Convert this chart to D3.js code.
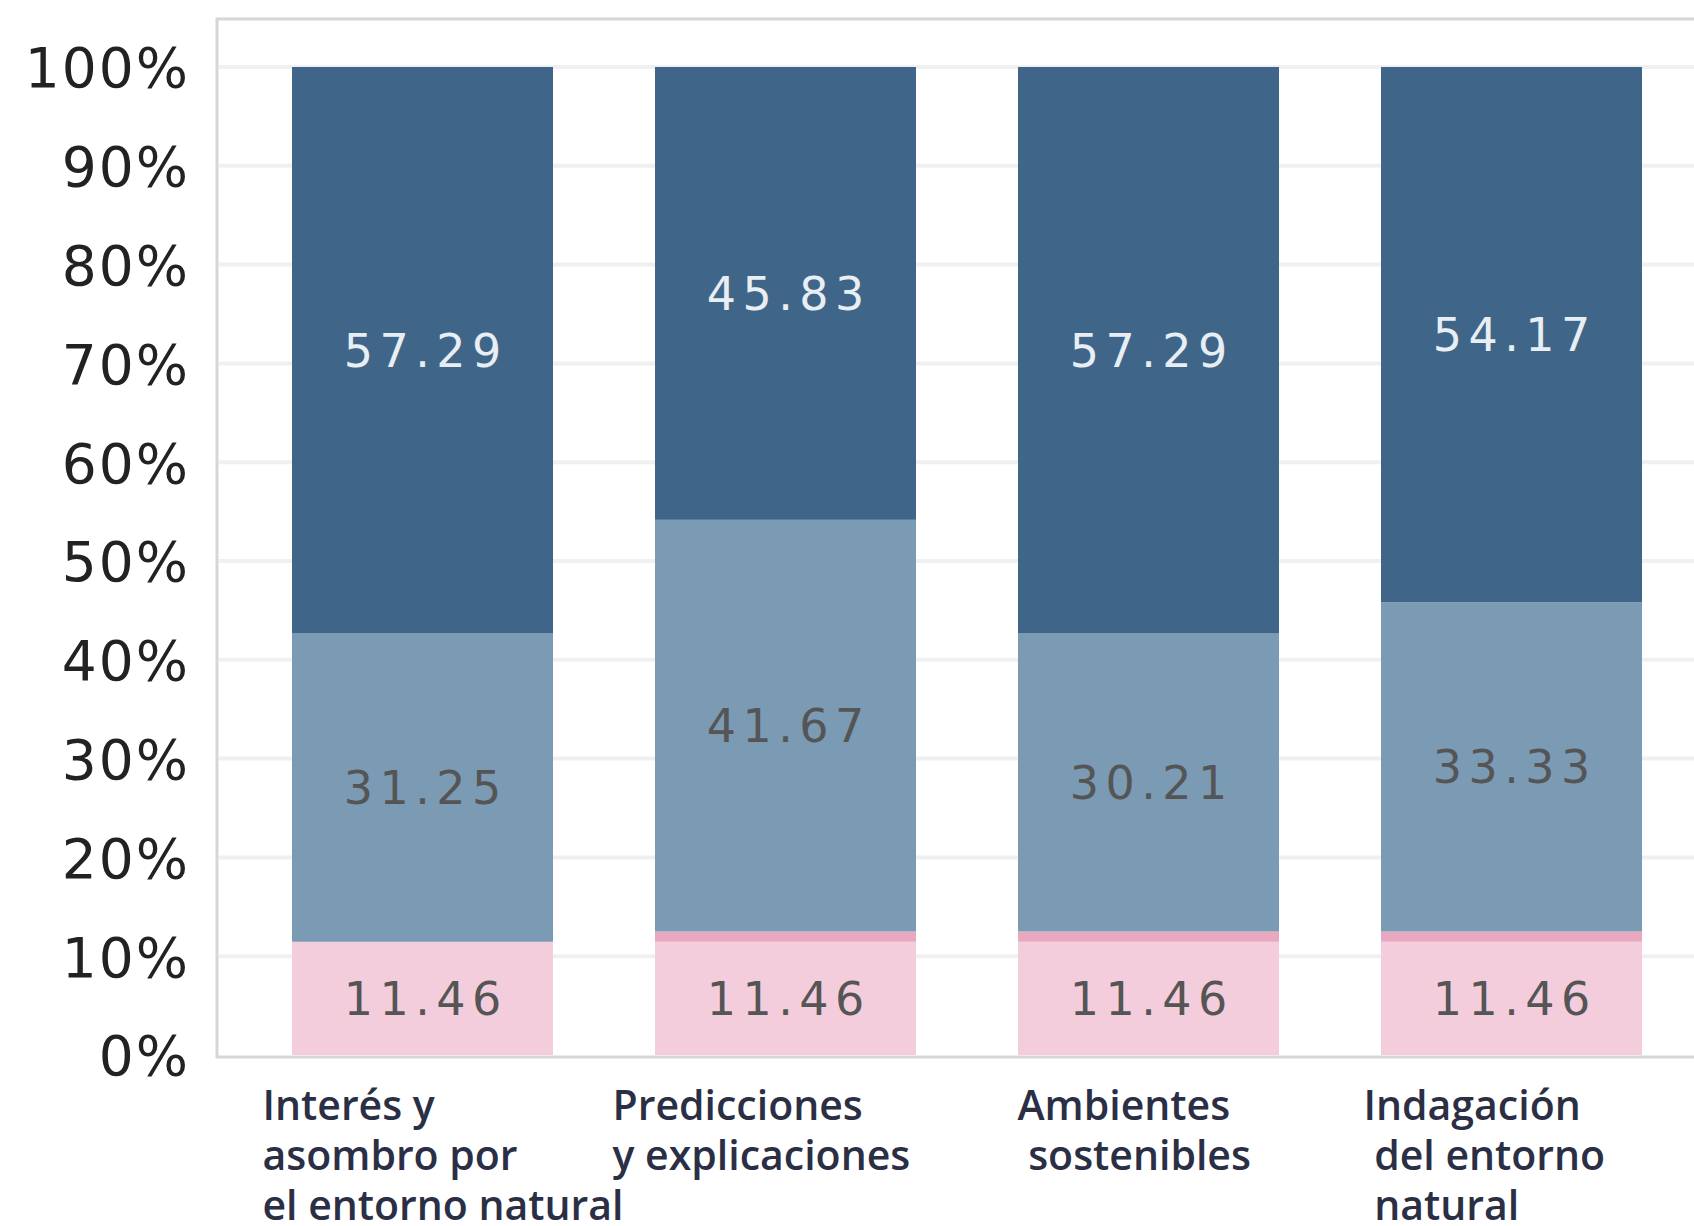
<!DOCTYPE html>
<html>
<head>
<meta charset="utf-8">
<script src="https://cdn.jsdelivr.net/npm/d3@7"></script>
<style>
  body { margin: 0; background: #fff; }
  svg { display: block; }
  .tick text { font-family: "DejaVu Sans", Verdana, sans-serif; }
</style>
</head>
<body>
<div id="chart"></div>
<script>
var categories = ["Interés y asombro por el entorno natural", "Predicciones y explicaciones", "Ambientes sostenibles", "Indagación del entorno natural"];
var categoryLines = [["Interés y", "asombro por", "el entorno natural"], ["Predicciones", "y explicaciones"], ["Ambientes", " sostenibles"], ["Indagación", " del entorno", " natural"]];
var seriesNames = ["bajo", "otro", "medio", "alto"];
var bajoValues = [11.46, 11.46, 11.46, 11.46];
var otroValues = [0, 1.04, 1.04, 1.04];
var medioValues = [31.25, 41.67, 30.21, 33.33];
var altoValues = [57.29, 45.83, 57.29, 54.17];
var yTicks = [0, 10, 20, 30, 40, 50, 60, 70, 80, 90, 100];

var width = 1694, height = 1226;
var colors = {bajo: "#f4cddd", otro: "#e8a9c0", medio: "#7b9ab3", alto: "#3f6688"};
var labelColors = {bajo: "#555", otro: "#555", medio: "#555", alto: "#e8eef4"};
var labelDx = [-160, -173, -131, -148];
var valueSpacing = 6.5;

var rows = categories.map(function(c, i) {
    return {cat: c, bajo: bajoValues[i], otro: otroValues[i], medio: medioValues[i], alto: altoValues[i]};
});
var stacked = d3.stack().keys(seriesNames)(rows);

var xScale = d3.scaleBand()
    .domain(categories)
    .range([241, 1693])
    .paddingInner(0.281)
    .paddingOuter(0.1405);

var yScale = d3.scaleLinear()
    .domain([0, 100])
    .range([1055, 67]);

var svg = d3.select("#chart").append("svg")
    .attr("width", width)
    .attr("height", height);

// frame
svg.append("rect")
    .attr("x", 217).attr("y", 19)
    .attr("width", 1600).attr("height", 1038)
    .attr("fill", "none")
    .attr("stroke", "#d6d6d6")
    .attr("stroke-width", 3);

// gridlines
svg.append("g").selectAll("line")
    .data(yTicks.filter(function(d) { return d > 0; }))
    .enter().append("line")
    .attr("x1", 219).attr("x2", width)
    .attr("y1", function(d) { return yScale(d); })
    .attr("y2", function(d) { return yScale(d); })
    .attr("stroke", "#f0f0f0")
    .attr("stroke-width", 4);

// y axis
var yAxis = svg.append("g")
    .attr("transform", "translate(190,0)")
    .call(d3.axisLeft(yScale).tickValues(yTicks).tickSize(0).tickPadding(0)
        .tickFormat(function(d) { return d + "%"; }));
yAxis.select(".domain").remove();
yAxis.selectAll("text")
    .attr("font-size", 55)
    .attr("letter-spacing", 2)
    .attr("fill", "#222")
    .attr("dy", "0.36em");

// bars
var layers = svg.append("g").selectAll("g.layer")
    .data(stacked)
    .enter().append("g")
    .attr("class", "layer")
    .attr("fill", function(d) { return colors[d.key]; });

layers.selectAll("rect")
    .data(function(d) { return d; })
    .enter().append("rect")
    .attr("x", function(d) { return xScale(d.data.cat); })
    .attr("width", xScale.bandwidth())
    .attr("y", function(d) { return yScale(d[1]); })
    .attr("height", function(d) { return yScale(d[0]) - yScale(d[1]); });

// value labels
svg.append("g").selectAll("g.lbl")
    .data(stacked.filter(function(s) { return s.key !== "otro"; }))
    .enter().append("g")
    .each(function(s) {
        d3.select(this).selectAll("text")
            .data(s)
            .enter().append("text")
            .attr("x", function(d) { return xScale(d.data.cat) + xScale.bandwidth() / 2 + valueSpacing / 2; })
            .attr("y", function(d) { return yScale((d[0] + d[1]) / 2); })
            .attr("dy", "0.36em")
            .attr("text-anchor", "middle")
            .attr("font-family", "DejaVu Sans, Verdana, sans-serif")
            .attr("font-size", 46)
            .attr("letter-spacing", valueSpacing)
            .attr("fill", labelColors[s.key])
            .text(function(d) { return d.data[s.key].toFixed(2); });
    });

// category labels
svg.append("g").selectAll("text")
    .data(categories)
    .enter().append("text")
    .attr("x", function(d, i) { return xScale(d) + xScale.bandwidth() / 2 + labelDx[i]; })
    .attr("y", 1120)
    .attr("font-family", "Open Sans, sans-serif")
    .attr("font-size", 41)
    .attr("font-weight", 600)
    .attr("fill", "#2b2f45")
    .attr("xml:space", "preserve")
    .each(function(d, i) {
        var t = d3.select(this);
        var x0 = +t.attr("x");
        categoryLines[i].forEach(function(line, j) {
            t.append("tspan")
                .attr("x", x0)
                .attr("dy", j === 0 ? 0 : 50)
                .text(line);
        });
    });
</script>
</body>
</html>
